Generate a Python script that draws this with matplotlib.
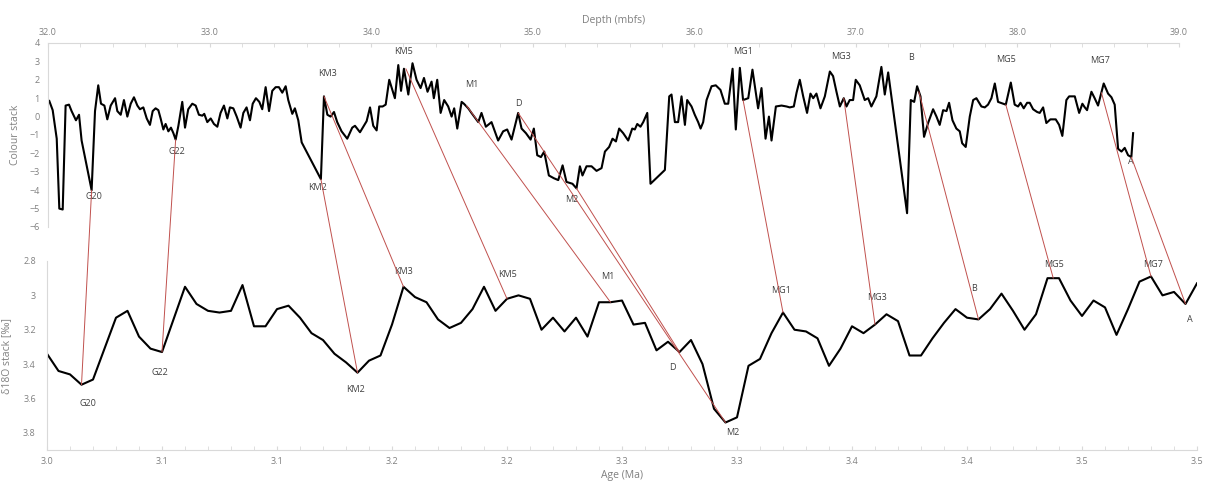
import matplotlib
matplotlib.use('Agg')
import matplotlib.pyplot as plt
from matplotlib.patches import ConnectionPatch
from matplotlib.ticker import MultipleLocator, FormatStrFormatter

plt.rcParams['font.family'] = ['Open Sans', 'DejaVu Sans']

# colour stack vs depth (mbfs)
depth = [32.008, 32.029, 32.054, 32.070, 32.091, 32.109, 32.130, 32.146, 32.173, 32.192,
         32.208, 32.270, 32.291, 32.311, 32.328, 32.349, 32.367, 32.388, 32.415, 32.429,
         32.450, 32.470, 32.491, 32.512, 32.532, 32.553, 32.569, 32.590, 32.611, 32.631,
         32.648, 32.666, 32.683, 32.697, 32.714, 32.728, 32.745, 32.761, 32.776, 32.790,
         32.807, 32.831, 32.848, 32.868, 32.893, 32.914, 32.934, 32.955, 32.967, 32.986,
         33.007, 33.027, 33.048, 33.068, 33.089, 33.110, 33.126, 33.147, 33.168, 33.192,
         33.209, 33.229, 33.250, 33.267, 33.287, 33.308, 33.326, 33.347, 33.368, 33.388,
         33.409, 33.429, 33.450, 33.471, 33.487, 33.512, 33.528, 33.549, 33.570, 33.689,
         33.708, 33.729, 33.749, 33.770, 33.790, 33.817, 33.852, 33.883, 33.900, 33.931,
         33.955, 33.972, 33.993, 34.013, 34.034, 34.050, 34.071, 34.090, 34.112, 34.147,
         34.168, 34.185, 34.203, 34.230, 34.256, 34.281, 34.306, 34.327, 34.349, 34.374,
         34.388, 34.409, 34.430, 34.452, 34.477, 34.498, 34.514, 34.533, 34.560, 34.574,
         34.601, 34.621, 34.663, 34.683, 34.710, 34.745, 34.786, 34.817, 34.842, 34.869,
         34.910, 34.931, 34.958, 34.987, 35.007, 35.028, 35.051, 35.071, 35.100, 35.131,
         35.158, 35.185, 35.209, 35.246, 35.271, 35.292, 35.308, 35.333, 35.364, 35.395,
         35.426, 35.447, 35.473, 35.494, 35.515, 35.535, 35.560, 35.591, 35.616, 35.632,
         35.647, 35.667, 35.684, 35.709, 35.729, 35.818, 35.845, 35.859, 35.880, 35.900,
         35.921, 35.942, 35.956, 35.983, 36.003, 36.024, 36.039, 36.055, 36.076, 36.107,
         36.133, 36.162, 36.189, 36.210, 36.237, 36.257, 36.282, 36.302, 36.334, 36.360,
         36.395, 36.416, 36.441, 36.462, 36.478, 36.505, 36.540, 36.571, 36.591, 36.616,
         36.633, 36.653, 36.674, 36.698, 36.719, 36.736, 36.756, 36.781, 36.808, 36.839,
         36.859, 36.880, 36.901, 36.925, 36.942, 36.962, 36.983, 36.999, 37.024, 37.055,
         37.076, 37.096, 37.127, 37.158, 37.179, 37.200, 37.317, 37.340, 37.361, 37.379,
         37.400, 37.422, 37.447, 37.478, 37.499, 37.519, 37.540, 37.561, 37.577, 37.598,
         37.622, 37.643, 37.658, 37.680, 37.705, 37.726, 37.746, 37.777, 37.798, 37.818,
         37.839, 37.860, 37.880, 37.911, 37.928, 37.959, 37.983, 38.004, 38.019, 38.039,
         38.060, 38.076, 38.097, 38.122, 38.138, 38.159, 38.179, 38.204, 38.237, 38.258,
         38.278, 38.303, 38.320, 38.355, 38.382, 38.402, 38.417, 38.431, 38.458, 38.478,
         38.499, 38.534, 38.561, 38.582, 38.602, 38.623, 38.644, 38.664, 38.685, 38.705,
         38.716]
colour = [0.85, 0.35, -1.2, -5.0, -5.05, 0.6, 0.65, 0.3, -0.2, 0.1,
          -1.3, -4.0, 0.3, 1.7, 0.7, 0.6, -0.15, 0.6, 1.0, 0.3,
          0.1, 0.9, 0.0, 0.7, 1.05, 0.6, 0.4, 0.5, -0.1, -0.45,
          0.3, 0.45, 0.35, -0.1, -0.7, -0.4, -0.8, -0.6, -0.9, -1.25,
          -0.5, 0.8, -0.6, 0.4, 0.7, 0.6, 0.1, 0.05, 0.15, -0.3,
          -0.1, -0.4, -0.55, 0.2, 0.6, -0.1, 0.5, 0.45, 0.0, -0.6,
          0.2, 0.5, -0.2, 0.7, 1.0, 0.8, 0.4, 1.6, 0.3, 1.4,
          1.6, 1.6, 1.3, 1.65, 0.9, 0.15, 0.45, -0.2, -1.4, -3.4,
          1.1, 0.1, 0.0, 0.25, -0.3, -0.8, -1.2, -0.6, -0.5, -0.85,
          -0.5, -0.25, 0.5, -0.5, -0.75, 0.55, 0.55, 0.65, 2.0, 1.0,
          2.8, 1.4, 2.6, 1.2, 2.9, 2.0, 1.55, 2.1, 1.35, 1.9,
          1.0, 2.0, 0.2, 0.9, 0.55, 0.0, 0.45, -0.65, 0.8, 0.7,
          0.45, 0.2, -0.3, 0.2, -0.55, -0.3, -1.3, -0.8, -0.7, -1.25,
          0.2, -0.65, -0.9, -1.25, -0.65, -2.1, -2.2, -1.9, -3.2, -3.35,
          -3.45, -2.65, -3.55, -3.65, -3.9, -2.7, -3.2, -2.7, -2.7, -2.95,
          -2.8, -1.9, -1.65, -1.2, -1.35, -0.65, -0.9, -1.3, -0.65, -0.7,
          -0.4, -0.55, -0.3, 0.2, -3.65, -2.9, 1.1, 1.2, -0.3, -0.3,
          1.1, -0.45, 0.9, 0.55, 0.1, -0.3, -0.65, -0.3, 0.9, 1.65,
          1.7, 1.45, 0.7, 0.7, 2.6, -0.7, 2.65, 0.9, 1.0, 2.55,
          0.45, 1.55, -1.2, 0.0, -1.3, 0.55, 0.6, 0.55, 0.5, 0.55,
          1.3, 2.0, 1.1, 0.2, 1.25, 1.0, 1.25, 0.45, 1.1, 2.45,
          2.2, 1.35, 0.55, 1.0, 0.55, 0.9, 0.9, 2.0, 1.7, 0.9,
          1.0, 0.55, 1.1, 2.7, 1.2, 2.4, -5.25, 0.9, 0.8, 1.65,
          1.1, -1.1, -0.35, 0.4, 0.0, -0.45, 0.35, 0.3, 0.75, -0.2,
          -0.65, -0.8, -1.45, -1.65, 0.0, 0.9, 1.0, 0.55, 0.5, 0.65,
          1.0, 1.8, 0.8, 0.7, 0.65, 1.85, 0.65, 0.55, 0.75, 0.45,
          0.75, 0.75, 0.4, 0.25, 0.2, 0.5, -0.35, -0.15, -0.15, -0.45,
          -1.05, 0.9, 1.1, 1.1, 0.2, 0.7, 0.5, 0.35, 1.35, 1.0,
          0.6, 1.8, 1.25, 1.05, 0.65, -1.75, -1.9, -1.7, -2.1, -2.2,
          -0.9]

# d18O stack, one value every 5 kyr from 3.000 to 3.500 Ma
age = [3.0 + 0.005 * i for i in range(101)]
d18o = [3.34, 3.44, 3.46, 3.52, 3.49, 3.31, 3.13, 3.09, 3.24, 3.31,
        3.33, 3.14, 2.95, 3.05, 3.09, 3.10, 3.09, 2.94, 3.18, 3.18,
        3.08, 3.06, 3.13, 3.22, 3.26, 3.34, 3.39, 3.45, 3.38, 3.35,
        3.17, 2.95, 3.01, 3.04, 3.14, 3.19, 3.16, 3.08, 2.95, 3.09,
        3.02, 3.00, 3.02, 3.20, 3.13, 3.21, 3.13, 3.24, 3.04, 3.04,
        3.03, 3.17, 3.16, 3.32, 3.27, 3.33, 3.26, 3.40, 3.66, 3.74,
        3.71, 3.41, 3.37, 3.22, 3.10, 3.20, 3.21, 3.25, 3.41, 3.31,
        3.18, 3.22, 3.17, 3.11, 3.15, 3.35, 3.35, 3.25, 3.16, 3.08,
        3.13, 3.14, 3.08, 2.99, 3.09, 3.20, 3.11, 2.90, 2.90, 3.03,
        3.12, 3.03, 3.07, 3.23, 3.08, 2.92, 2.89, 3.00, 2.98, 3.05,
        2.93]

# event names and where they are written in each panel
events = ['G20', 'G22', 'KM3', 'KM2', 'KM5', 'M1', 'D', 'M2', 'MG1', 'MG3', 'B', 'MG5', 'MG7', 'A']
lab_depth = [32.285, 32.80, 33.73, 33.67, 34.20, 34.62, 34.91, 35.24, 36.30, 36.91, 37.34, 37.93, 38.51, 38.70]
lab_colour = [-4.35, -1.9, 2.34, -3.87, 3.53, 1.74, 0.7, -4.5, 3.55, 3.26, 3.2, 3.1, 3.04, -2.45]
lab_age = [3.0178, 3.049, 3.155, 3.134, 3.2004, 3.244, 3.272, 3.298, 3.319, 3.361, 3.403, 3.438, 3.481, 3.497]
lab_d18o = [3.63, 3.45, 2.86, 3.55, 2.88, 2.89, 3.42, 3.80, 2.97, 3.01, 2.96, 2.82, 2.82, 3.14]

# tie points: colour stack (depth, value) -> d18O stack (age, value)
tie_depth = [32.270, 32.790, 33.689, 33.708, 34.215, 34.590, 34.910, 35.271, 36.302, 36.925, 37.390, 37.928, 38.520, 38.705]
tie_colour = [-4.0, -1.25, -3.4, 1.1, 2.6, 0.6, 0.2, -3.9, 0.9, 1.0, 1.35, 0.65, 1.3, -2.2]
tie_age = [3.015, 3.050, 3.135, 3.155, 3.200, 3.245, 3.295, 3.275, 3.320, 3.360, 3.405, 3.4375, 3.480, 3.495]
tie_d18o = [3.52, 3.33, 3.45, 2.95, 3.02, 3.04, 3.74, 3.33, 3.10, 3.17, 3.14, 2.90, 2.89, 3.05]

age_ticks = [3.0 + 0.05 * i for i in range(11)]
age_tick_labels = ['3.0', '3.1', '3.1', '3.2', '3.2', '3.3', '3.3', '3.4', '3.4', '3.5', '3.5']

W, H = 1208, 491
fig = plt.figure(figsize=(W / 100, H / 100), dpi=100)
axc = fig.add_axes([48 / W, 1 - 227 / H, (1179 - 48) / W, 184 / H])
axo = fig.add_axes([47 / W, 1 - 450 / H, (1197 - 47) / W, 189 / H])

grey = '#808080'
spine = '#d9d9d9'
lab = '#404040'

# colour stack panel
axc.plot(depth, colour, color='black', lw=1.5)
axc.set_xlim(32, 39)
axc.set_ylim(-6, 4)
axc.xaxis.tick_top()
axc.xaxis.set_label_position('top')
axc.xaxis.set_major_locator(MultipleLocator(1.0))
axc.xaxis.set_minor_locator(MultipleLocator(0.2))
axc.xaxis.set_major_formatter(FormatStrFormatter('%.1f'))
axc.yaxis.set_major_locator(MultipleLocator(1))
axc.set_xlabel('Depth (mbfs)', color=grey, fontsize=7.5, labelpad=4)
axc.set_ylabel('Colour stack', color=grey, fontsize=7.5, labelpad=6)
for s in ['bottom', 'right']:
    axc.spines[s].set_visible(False)
for s in ['top', 'left']:
    axc.spines[s].set_color(spine)
axc.tick_params(axis='x', which='both', direction='in', length=3, color=spine,
                labelsize=6.5, labelcolor=grey, pad=4)
axc.tick_params(axis='y', length=0, labelsize=6.5, labelcolor=grey, pad=6)
axc.patch.set_alpha(0)

# d18O panel
axo.plot(age, d18o, color='black', lw=1.5)
axo.set_xlim(3.0, 3.5)
axo.set_ylim(3.9, 2.8)
axo.set_xticks(age_ticks)
axo.set_xticklabels(age_tick_labels)
axo.xaxis.set_minor_locator(MultipleLocator(0.01))
axo.set_yticks([2.8, 3.0, 3.2, 3.4, 3.6, 3.8])
axo.yaxis.set_major_formatter(FormatStrFormatter('%g'))
axo.set_xlabel('Age (Ma)', color=grey, fontsize=7.5, labelpad=3)
axo.set_ylabel('δ18O stack [‰]', color=grey, fontsize=7.5, labelpad=8)
for s in ['top', 'right']:
    axo.spines[s].set_visible(False)
for s in ['bottom', 'left']:
    axo.spines[s].set_color(spine)
axo.tick_params(axis='x', which='both', direction='in', length=3, color=spine,
                labelsize=6.5, labelcolor=grey, pad=5)
axo.tick_params(axis='y', length=0, labelsize=6.5, labelcolor=grey, pad=8)
axo.patch.set_alpha(0)

for name, d, c, a, o in zip(events, lab_depth, lab_colour, lab_age, lab_d18o):
    axc.text(d, c, name, fontsize=6.5, color=lab, ha='center', va='center')
    axo.text(a, o, name, fontsize=6.5, color=lab, ha='center', va='center')

# correlation lines between the two records
for d, c, a, o in zip(tie_depth, tie_colour, tie_age, tie_d18o):
    con = ConnectionPatch(xyA=(d, c), coordsA=axc.transData,
                          xyB=(a, o), coordsB=axo.transData,
                          color='#c0504d', lw=0.7, zorder=1)
    fig.add_artist(con)

fig.savefig('out.png', dpi=100)
